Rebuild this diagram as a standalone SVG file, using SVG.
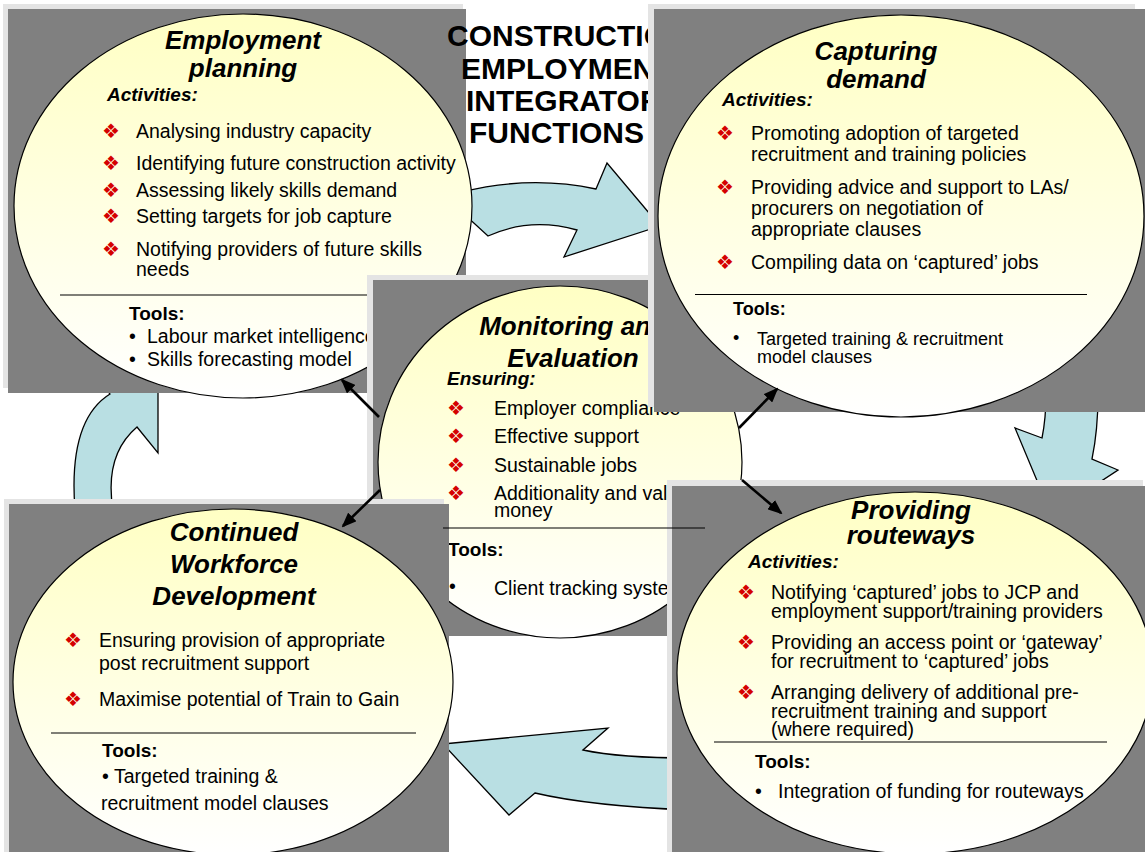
<svg xmlns="http://www.w3.org/2000/svg" width="1145" height="852" viewBox="0 0 1145 852">
  <defs>
    <linearGradient id="cream" x1="0" y1="0" x2="0" y2="1">
      <stop offset="0" stop-color="#ffffc4"/>
      <stop offset="1" stop-color="#ffffff"/>
    </linearGradient>
    <marker id="tip" markerUnits="userSpaceOnUse" markerWidth="15" markerHeight="12" refX="13" refY="6" orient="auto">
      <path d="M0,0 L15,6 L0,12 Z" fill="#000"/>
    </marker>
    <style>
      .edge { fill: #e4e4e4; }
      .panel { fill: #808080; }
      .bubble { fill: url(#cream); stroke: #000; stroke-width: 1.2; }
      .flow { fill: #b9dfe3; stroke: #000; stroke-width: 1.3; stroke-linejoin: miter; }
      .rule { stroke: #000; stroke-width: 1.2; }
      .link { fill: none; stroke: #000; stroke-width: 2.6; marker-end: url(#tip); }
      text { font-family: "Liberation Sans", Arial, sans-serif; fill: #000; }
      .title { font-size: 30px; font-weight: bold; }
      .head { font-size: 26px; font-weight: bold; font-style: italic; text-anchor: middle; }
      .sub { font-size: 19px; font-weight: bold; font-style: italic; }
      .body { font-size: 19.5px; }
      .small { font-size: 18px; }
      .tools { font-size: 19px; font-weight: bold; }
      .tools18 { font-size: 18px; font-weight: bold; }
      .bul { font-family: "DejaVu Sans", sans-serif; font-size: 20px; fill: #d40000; }
    </style>
  </defs>

  <rect width="1145" height="852" fill="#fff"/>

  <!-- block arrows showing the cycle between functions -->
  <g id="cycle-arrows">
    <path class="flow" d="M462,192 Q530,175 596,189 L607,163 L660,226 L564,257 L577,230 Q530,217 488,236 L464,214 Z"/>
    <path class="flow" d="M1046,395 Q1046,418 1042,438 L1015,428 L1051,514 L1118,470 L1092,459 Q1098,430 1098,395 Z"/>
    <path class="flow" d="M443,744 L608,728 L583,750 Q620,758 690,758 L690,810 Q590,806 535,793 L509,815 Z"/>
    <path class="flow" d="M75,510 Q68,420 110,394 L100,380 L158,340 L158,453 L137,427 Q104,455 113,510 Z"/>
  </g>

  <!-- Employment planning -->
  <g id="employment-planning">
    <rect class="edge" x="3" y="4" width="460" height="384"/>
    <rect class="panel" x="8" y="9" width="458" height="384"/>
    <ellipse class="bubble" cx="243" cy="206" rx="229" ry="192"/>
    <text class="head" x="243" y="49">Employment</text>
    <text class="head" x="243" y="77">planning</text>
    <text class="sub" x="107" y="101">Activities:</text>
    <text class="bul" x="102" y="138">❖</text>
    <text class="body" x="136" y="138">Analysing industry capacity</text>
    <text class="bul" x="102" y="170">❖</text>
    <text class="body" x="136" y="170">Identifying future construction activity</text>
    <text class="bul" x="102" y="197">❖</text>
    <text class="body" x="136" y="197">Assessing likely skills demand</text>
    <text class="bul" x="102" y="223">❖</text>
    <text class="body" x="136" y="223">Setting targets for job capture</text>
    <text class="bul" x="102" y="256">❖</text>
    <text class="body" x="136" y="256">Notifying providers of future skills</text>
    <text class="body" x="136" y="276">needs</text>
    <line class="rule" x1="60" y1="295" x2="460" y2="295"/>
    <text class="tools" x="129" y="320">Tools:</text>
    <text class="body" x="129" y="343">•</text>
    <text class="body" x="147" y="343">Labour market intelligence</text>
    <text class="body" x="129" y="366">•</text>
    <text class="body" x="147" y="366">Skills forecasting model</text>
  </g>

  <!-- heading -->
  <g id="heading">
    <text class="title" x="447" y="46">CONSTRUCTION</text>
    <text class="title" x="461" y="79">EMPLOYMENT</text>
    <text class="title" x="466" y="111">INTEGRATOR</text>
    <text class="title" x="469" y="143">FUNCTIONS</text>
  </g>

  <!-- Monitoring and Evaluation -->
  <g id="monitoring-evaluation">
    <rect class="edge" x="367" y="275" width="362" height="356"/>
    <rect class="panel" x="373" y="280" width="362" height="356"/>
    <ellipse class="bubble" cx="560" cy="462" rx="182" ry="176"/>
    <text class="head" x="573" y="335">Monitoring and</text>
    <text class="head" x="573" y="367">Evaluation</text>
    <text class="sub" x="447" y="385">Ensuring:</text>
    <text class="bul" x="447" y="415">❖</text>
    <text class="body" x="494" y="415">Employer compliance</text>
    <text class="bul" x="447" y="443">❖</text>
    <text class="body" x="494" y="443">Effective support</text>
    <text class="bul" x="447" y="472">❖</text>
    <text class="body" x="494" y="472">Sustainable jobs</text>
    <text class="bul" x="447" y="500">❖</text>
    <text class="body" x="494" y="500">Additionality and value for</text>
    <text class="body" x="494" y="517">money</text>
    <text class="tools" x="448" y="556">Tools:</text>
    <text class="body" x="449" y="593">•</text>
    <text class="body" x="494" y="595">Client tracking system</text>
  </g>

  <!-- Capturing demand -->
  <g id="capturing-demand">
    <rect class="edge" x="648" y="4" width="487" height="403"/>
    <rect class="panel" x="654" y="9" width="491" height="403"/>
    <ellipse class="bubble" cx="901" cy="216" rx="243" ry="201"/>
    <text class="head" x="876" y="60">Capturing</text>
    <text class="head" x="876" y="88">demand</text>
    <text class="sub" x="722" y="106">Activities:</text>
    <text class="bul" x="716" y="140">❖</text>
    <text class="body" x="751" y="140">Promoting adoption of targeted</text>
    <text class="body" x="751" y="161">recruitment and training policies</text>
    <text class="bul" x="716" y="194">❖</text>
    <text class="body" x="751" y="194">Providing advice and support to LAs/</text>
    <text class="body" x="751" y="215">procurers on negotiation of</text>
    <text class="body" x="751" y="236">appropriate clauses</text>
    <text class="bul" x="716" y="269">❖</text>
    <text class="body" x="751" y="269">Compiling data on ‘captured’ jobs</text>
    <line class="rule" x1="695" y1="294.5" x2="1087" y2="294.5"/>
    <text class="tools18" x="733" y="315">Tools:</text>
    <text class="small" x="733" y="344">•</text>
    <text class="small" x="757" y="345">Targeted training &amp; recruitment</text>
    <text class="small" x="757" y="363">model clauses</text>
  </g>

  <!-- Continued Workforce Development -->
  <g id="continued-workforce-development">
    <rect class="edge" x="4" y="499" width="440" height="360"/>
    <rect class="panel" x="9" y="504" width="440" height="360"/>
    <ellipse class="bubble" cx="233" cy="682" rx="220" ry="173"/>
    <text class="head" x="234" y="541">Continued</text>
    <text class="head" x="234" y="573">Workforce</text>
    <text class="head" x="234" y="605">Development</text>
    <text class="bul" x="64" y="647">❖</text>
    <text class="body" x="99" y="647">Ensuring provision of appropriate</text>
    <text class="body" x="99" y="670">post recruitment support</text>
    <text class="bul" x="64" y="706">❖</text>
    <text class="body" x="99" y="706">Maximise potential of Train to Gain</text>
    <line class="rule" x1="51" y1="733" x2="416" y2="733"/>
    <text class="tools" x="102" y="757">Tools:</text>
    <text class="body" x="102" y="783">•</text>
    <text class="body" x="114" y="783">Targeted training &amp;</text>
    <text class="body" x="101" y="810">recruitment model clauses</text>
  </g>

  <!-- Providing routeways -->
  <g id="providing-routeways">
    <rect class="edge" x="667" y="480" width="476" height="380"/>
    <rect class="panel" x="672" y="486" width="480" height="380"/>
    <ellipse class="bubble" cx="915" cy="673" rx="238" ry="181"/>
    <text class="head" x="911" y="519">Providing</text>
    <text class="head" x="911" y="544">routeways</text>
    <text class="sub" x="748" y="568">Activities:</text>
    <text class="bul" x="737" y="599">❖</text>
    <text class="body" x="771" y="599">Notifying ‘captured’ jobs to JCP and</text>
    <text class="body" x="771" y="618">employment support/training providers</text>
    <text class="bul" x="737" y="649">❖</text>
    <text class="body" x="771" y="649">Providing an access point or ‘gateway’</text>
    <text class="body" x="771" y="668">for recruitment to ‘captured’ jobs</text>
    <text class="bul" x="737" y="699">❖</text>
    <text class="body" x="771" y="699">Arranging delivery of additional pre-</text>
    <text class="body" x="771" y="718">recruitment training and support</text>
    <text class="body" x="771" y="736">(where required)</text>
    <line class="rule" x1="714" y1="742" x2="1107" y2="742"/>
    <text class="tools" x="755" y="768">Tools:</text>
    <text class="body" x="755" y="798">•</text>
    <text class="body" x="778" y="798">Integration of funding for routeways</text>
  </g>

  <!-- divider of the monitoring box, lying over the neighbouring panel -->
  <g id="monitoring-divider">
    <line class="rule" x1="443" y1="528" x2="705" y2="528"/>
  </g>

  <!-- links from Monitoring and Evaluation to the four functions -->
  <g id="connectors">
    <path class="link" d="M379,417 L342,380"/>
    <path class="link" d="M380,490 L343,526"/>
    <path class="link" d="M739,428 L777,389"/>
    <path class="link" d="M742,480 L781,513"/>
  </g>
</svg>
